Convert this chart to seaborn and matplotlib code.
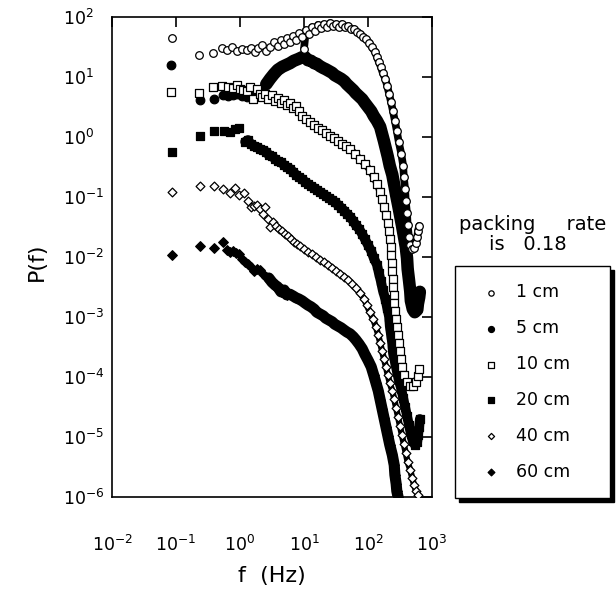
import matplotlib
matplotlib.use("Agg")
import matplotlib.pyplot as plt
import numpy as np
import pandas as pd
import seaborn as sns
from matplotlib.ticker import LogLocator, NullLocator

# values, stored as log10(f / Hz) and log10(P)
LOGF_1CM = [-1.06, -0.64, -0.42, -0.28, -0.2, -0.12, -0.05, 0.03, 0.11, 0.17, 0.23, 0.28, 0.34, 0.41,
            0.47, 0.53, 0.59, 0.64, 0.69, 0.73, 0.78, 0.83, 0.875, 0.92, 0.97, 1.0, 1.03, 1.08, 1.125,
            1.17, 1.22, 1.27, 1.31, 1.36, 1.41, 1.45, 1.5, 1.55, 1.59, 1.64, 1.69, 1.73, 1.78, 1.83,
            1.875, 1.92, 1.97, 2.02, 2.06, 2.11, 2.14, 2.17, 2.2, 2.23, 2.27, 2.3, 2.33, 2.36, 2.39,
            2.42, 2.45, 2.48, 2.52, 2.55, 2.56, 2.58, 2.59, 2.61, 2.62, 2.64, 2.66, 2.69, 2.72, 2.75,
            2.77, 2.78, 2.8]
LOGP_1CM = [1.65, 1.37, 1.4, 1.48, 1.45, 1.5, 1.43, 1.47, 1.45, 1.48, 1.42, 1.48, 1.53, 1.43,
            1.5, 1.58, 1.52, 1.62, 1.55, 1.65, 1.58, 1.68, 1.62, 1.73, 1.67, 1.47, 1.78, 1.72, 1.83,
            1.77, 1.87, 1.82, 1.88, 1.83, 1.9, 1.85, 1.88, 1.83, 1.88, 1.83, 1.85, 1.8, 1.8, 1.75,
            1.72, 1.67, 1.63, 1.57, 1.5, 1.42, 1.33, 1.25, 1.17, 1.07, 0.97, 0.85, 0.72, 0.58, 0.43,
            0.27, 0.1, -0.08, -0.28, -0.48, -0.67, -0.87, -1.07, -1.27, -1.47, -1.67, -1.8, -1.87,
            -1.85, -1.77, -1.67, -1.57, -1.48]

LOGF_5CM = [-1.08, -0.625, -0.41, -0.27, -0.19, -0.11, -0.05, 0.03, 0.11, 0.19, 0.27, 0.34, 0.41,
            0.47, 0.53, 0.59, 0.66, 0.72, 0.78, 0.84, 0.91, 0.97, 1.02, 1.06, 1.11, 1.16, 1.2, 1.25,
            1.3, 1.34, 1.39, 1.44, 1.48, 1.53, 1.58, 1.63, 1.67, 1.72, 1.77, 1.81, 1.86, 1.91, 1.95,
            2.0, 2.05, 2.09, 2.14, 2.19, 2.22, 2.25, 2.28, 2.31, 2.34, 2.38, 2.41, 2.44, 2.47, 2.5,
            2.53, 2.56, 2.59, 2.61, 2.62, 2.64, 2.66, 2.67, 2.7, 2.73, 2.77, 2.78, 2.8, 2.81]
LOGP_5CM = [1.2, 0.62, 0.63, 0.7, 0.68, 0.7, 0.72, 0.68, 0.67, 0.72, 0.75, 0.8, 0.88, 0.97, 1.05,
            1.12, 1.17, 1.2, 1.23, 1.27, 1.3, 1.33, 1.33, 1.28, 1.27, 1.23, 1.22, 1.18, 1.15, 1.13,
            1.1, 1.07, 1.03, 1.0, 0.97, 0.93, 0.88, 0.83, 0.78, 0.73, 0.68, 0.63, 0.57, 0.5, 0.43,
            0.35, 0.27, 0.17, 0.05, -0.07, -0.2, -0.33, -0.48, -0.63, -0.8, -0.97, -1.13, -1.3,
            -1.47, -1.65, -1.83, -2.02, -2.2, -2.38, -2.57, -2.73, -2.87, -2.92, -2.88, -2.78,
            -2.67, -2.58]

LOGF_10CM = [-1.08, -0.64, -0.42, -0.28, -0.19, -0.11, -0.05, 0.0, 0.05, 0.11, 0.16, 0.2, 0.27,
             0.31, 0.34, 0.39, 0.44, 0.5, 0.55, 0.59, 0.64, 0.69, 0.73, 0.78, 0.83, 0.875, 0.92,
             0.97, 1.03, 1.09, 1.16, 1.22, 1.28, 1.34, 1.41, 1.47, 1.53, 1.59, 1.66, 1.72, 1.8,
             1.875, 1.95, 2.03, 2.09, 2.14, 2.19, 2.22, 2.25, 2.28, 2.31, 2.33, 2.34, 2.36, 2.36,
             2.38, 2.38, 2.39, 2.39, 2.41, 2.41, 2.42, 2.44, 2.45, 2.47, 2.48, 2.5, 2.52, 2.53,
             2.56, 2.61, 2.66, 2.7, 2.75, 2.78, 2.8]
LOGP_10CM = [0.75, 0.73, 0.83, 0.85, 0.83, 0.82, 0.87, 0.8, 0.78, 0.77, 0.83, 0.63, 0.8, 0.72,
             0.67, 0.72, 0.63, 0.7, 0.6, 0.65, 0.57, 0.62, 0.53, 0.57, 0.48, 0.52, 0.43, 0.35, 0.3,
             0.25, 0.2, 0.15, 0.12, 0.07, 0.02, -0.02, -0.07, -0.12, -0.15, -0.2, -0.28, -0.37,
             -0.45, -0.55, -0.67, -0.78, -0.92, -1.03, -1.17, -1.3, -1.43, -1.57, -1.7, -1.83,
             -1.97, -2.1, -2.23, -2.37, -2.5, -2.63, -2.77, -2.9, -3.03, -3.17, -3.3, -3.43, -3.57,
             -3.7, -3.83, -3.97, -4.08, -4.15, -4.15, -4.08, -3.98, -3.87]

LOGF_20CM = [-1.06, -0.625, -0.41, -0.25, -0.16, -0.08, -0.02, 0.08, 0.125, 0.17, 0.22, 0.27, 0.31,
             0.36, 0.41, 0.45, 0.5, 0.55, 0.59, 0.64, 0.69, 0.73, 0.78, 0.83, 0.875, 0.92, 0.97,
             1.02, 1.06, 1.11, 1.16, 1.2, 1.25, 1.3, 1.34, 1.39, 1.44, 1.48, 1.53, 1.58, 1.63, 1.67,
             1.72, 1.77, 1.81, 1.86, 1.91, 1.95, 2.0, 2.05, 2.09, 2.14, 2.17, 2.2, 2.23, 2.27, 2.3,
             2.33, 2.34, 2.36, 2.38, 2.39, 2.42, 2.45, 2.48, 2.52, 2.55, 2.58, 2.61, 2.64, 2.67,
             2.7, 2.73, 2.77, 2.78, 2.8, 2.81]
LOGP_20CM = [-0.25, 0.02, 0.1, 0.1, 0.08, 0.13, 0.15, -0.08, -0.05, -0.12, -0.15, -0.17, -0.2,
             -0.22, -0.25, -0.3, -0.32, -0.37, -0.4, -0.42, -0.47, -0.5, -0.53, -0.58, -0.63, -0.67,
             -0.7, -0.75, -0.78, -0.82, -0.85, -0.88, -0.92, -0.95, -0.98, -1.02, -1.05, -1.08,
             -1.13, -1.18, -1.23, -1.28, -1.33, -1.4, -1.47, -1.53, -1.62, -1.7, -1.8, -1.9, -2.02,
             -2.13, -2.27, -2.4, -2.55, -2.7, -2.85, -3.0, -3.15, -3.3, -3.45, -3.6, -3.75, -3.9,
             -4.05, -4.2, -4.35, -4.5, -4.65, -4.8, -4.95, -5.07, -5.13, -5.08, -4.97, -4.83, -4.7]

LOGF_40CM = [-1.06, -0.625, -0.41, -0.27, -0.16, -0.08, -0.02, 0.06, 0.125, 0.17, 0.22, 0.27, 0.31,
             0.36, 0.39, 0.44, 0.47, 0.52, 0.56, 0.61, 0.66, 0.7, 0.75, 0.8, 0.84, 0.89, 0.94, 1.0,
             1.06, 1.125, 1.19, 1.25, 1.31, 1.375, 1.44, 1.5, 1.56, 1.63, 1.69, 1.75, 1.81, 1.875,
             1.94, 1.98, 2.03, 2.08, 2.125, 2.16, 2.19, 2.22, 2.25, 2.28, 2.31, 2.34, 2.38, 2.41,
             2.44, 2.47, 2.5, 2.53, 2.56, 2.59, 2.62, 2.66, 2.69, 2.72, 2.75, 2.78]
LOGP_40CM = [-0.92, -0.82, -0.82, -0.87, -0.93, -0.85, -0.97, -0.93, -1.07, -1.17, -1.15, -1.13,
             -1.2, -1.28, -1.17, -1.37, -1.5, -1.42, -1.48, -1.53, -1.57, -1.62, -1.65, -1.7, -1.75,
             -1.78, -1.82, -1.87, -1.92, -1.95, -2.0, -2.05, -2.08, -2.13, -2.18, -2.23, -2.28,
             -2.33, -2.38, -2.45, -2.52, -2.6, -2.7, -2.8, -2.92, -3.03, -3.17, -3.3, -3.43, -3.57,
             -3.7, -3.83, -3.97, -4.1, -4.23, -4.37, -4.52, -4.67, -4.82, -4.97, -5.12, -5.27,
             -5.42, -5.55, -5.68, -5.8, -5.9, -5.97]

LOGF_60CM = [-1.06, -0.625, -0.41, -0.27, -0.2, -0.16, -0.11, -0.06, -0.02, 0.03, 0.08, 0.125, 0.17,
             0.22, 0.27, 0.31, 0.36, 0.41, 0.45, 0.5, 0.55, 0.59, 0.64, 0.69, 0.73, 0.78, 0.83,
             0.875, 0.92, 0.97, 1.02, 1.06, 1.11, 1.16, 1.2, 1.25, 1.3, 1.34, 1.39, 1.44, 1.48,
             1.53, 1.58, 1.63, 1.67, 1.72, 1.77, 1.81, 1.86, 1.91, 1.95, 2.0, 2.05, 2.09, 2.125,
             2.16, 2.19, 2.22, 2.25, 2.28, 2.31, 2.34, 2.38, 2.41, 2.42, 2.44, 2.45, 2.47]
LOGP_60CM = [-1.97, -1.82, -1.85, -1.75, -1.88, -1.92, -1.9, -1.93, -1.95, -2.03, -2.08, -2.12,
             -2.17, -2.23, -2.2, -2.22, -2.28, -2.33, -2.35, -2.42, -2.47, -2.5, -2.58, -2.55,
             -2.63, -2.62, -2.65, -2.68, -2.7, -2.73, -2.77, -2.8, -2.83, -2.87, -2.92, -2.95,
             -2.98, -3.02, -3.05, -3.08, -3.12, -3.15, -3.18, -3.22, -3.25, -3.28, -3.33, -3.38,
             -3.45, -3.53, -3.62, -3.72, -3.83, -3.97, -4.1, -4.23, -4.38, -4.53, -4.68, -4.83,
             -4.98, -5.13, -5.3, -5.47, -5.63, -5.78, -5.9, -6.0]

LABELS = ["1 cm", "5 cm", "10 cm", "20 cm", "40 cm", "60 cm"]
X_EXPONENTS = [-2, -1, 0, 1, 2, 3]
Y_EXPONENTS = [-6, -5, -4, -3, -2, -1, 0, 1, 2]

# label, logf, logp, marker, face colour, marker size, band width, band start (log f)
# the densely sampled high-frequency part is drawn as a band behind the markers
SERIES = [
    ("60 cm", LOGF_60CM, LOGP_60CM, "D", "black", 24, 8.0, 0.45),
    ("20 cm", LOGF_20CM, LOGP_20CM, "s", "black", 34, 7.0, 0.05),
    ("5 cm", LOGF_5CM, LOGP_5CM, "o", "black", 38, 9.0, 0.4),
    ("40 cm", LOGF_40CM, LOGP_40CM, "D", "white", 20, 4.5, 0.5),
    ("10 cm", LOGF_10CM, LOGP_10CM, "s", "white", 30, 5.0, 0.9),
    ("1 cm", LOGF_1CM, LOGP_1CM, "o", "white", 30, 5.5, 1.0),
]


def _setup() -> None:
    sns.set_theme(style="white")
    plt.rcParams["font.family"] = ["DejaVu Sans"]
    plt.rcParams["text.color"] = "black"
    plt.rcParams["axes.edgecolor"] = "black"
    plt.rcParams["axes.linewidth"] = 1.2


_setup()
fig = plt.figure(figsize=(6.16, 5.95), dpi=100)
ax = fig.add_axes([0.1818, 0.1647, 0.5195, 0.8067])

for label, lf, lp, marker, face, size, band_lw, band_from in SERIES:
    d = pd.DataFrame({"logf": lf, "logp": lp})
    d["f"] = 10 ** d["logf"]
    d["P"] = 10 ** d["logp"]
    dense = d[d["logf"] >= band_from]
    sns.lineplot(data=dense, x="f", y="P", ax=ax, sort=False, estimator=None, color="black",
                 linewidth=band_lw, legend=False, solid_joinstyle="round",
                 solid_capstyle="round")
    sns.scatterplot(data=d, x="f", y="P", ax=ax, marker=marker, s=size, color=face,
                    edgecolor="black", linewidth=0.9, label=label, zorder=3)

ax.set_xscale("log")
ax.set_yscale("log")
ax.set_xlim(10.0 ** X_EXPONENTS[0], 10.0 ** X_EXPONENTS[-1])
ax.set_ylim(10.0 ** Y_EXPONENTS[0], 10.0 ** Y_EXPONENTS[-1])
ax.xaxis.set_major_locator(LogLocator(base=10, numticks=20))
ax.yaxis.set_major_locator(LogLocator(base=10, numticks=20))
ax.xaxis.set_minor_locator(NullLocator())
ax.yaxis.set_minor_locator(NullLocator())
ax.tick_params(which="major", direction="in", length=7, width=1.2, top=True, right=True,
               labelsize=12.5, colors="black")
ax.tick_params(axis="x", pad=27)
ax.tick_params(axis="y", pad=35)
ax.set_xlabel("")
ax.set_ylabel("")
plt.setp(ax.get_yticklabels(), ha="left")

fig.text(37 / 616, 1 - 262 / 595, "P(f)", rotation=90, ha="center", va="center", fontsize=16)
fig.text(272 / 616, 1 - 576 / 595, "f  (Hz)", ha="center", va="center", fontsize=16)

handles, labels = ax.get_legend_handles_labels()
by_label = dict(zip(labels, handles))
leg = ax.legend([by_label[k] for k in LABELS], LABELS, loc="upper left",
                bbox_to_anchor=(455 / 616, 1 - 266 / 595, 155 / 616, 0),
                bbox_transform=fig.transFigure, mode="expand", borderaxespad=0,
                fontsize=12.5, labelspacing=1.03, handlelength=2.2, handletextpad=0.3,
                borderpad=1.0, markerscale=0.7, fancybox=False, framealpha=1,
                edgecolor="black", shadow={"color": "black", "alpha": 1, "ox": 3, "oy": -3})
leg.get_frame().set_linewidth(1.0)

fig.text(533 / 616, 1 - 224 / 595, "packing     rate", ha="center", va="center", fontsize=14)
fig.text(528 / 616, 1 - 245 / 595, "is   0.18", ha="center", va="center", fontsize=14)

fig.savefig("out.png", dpi=100)
